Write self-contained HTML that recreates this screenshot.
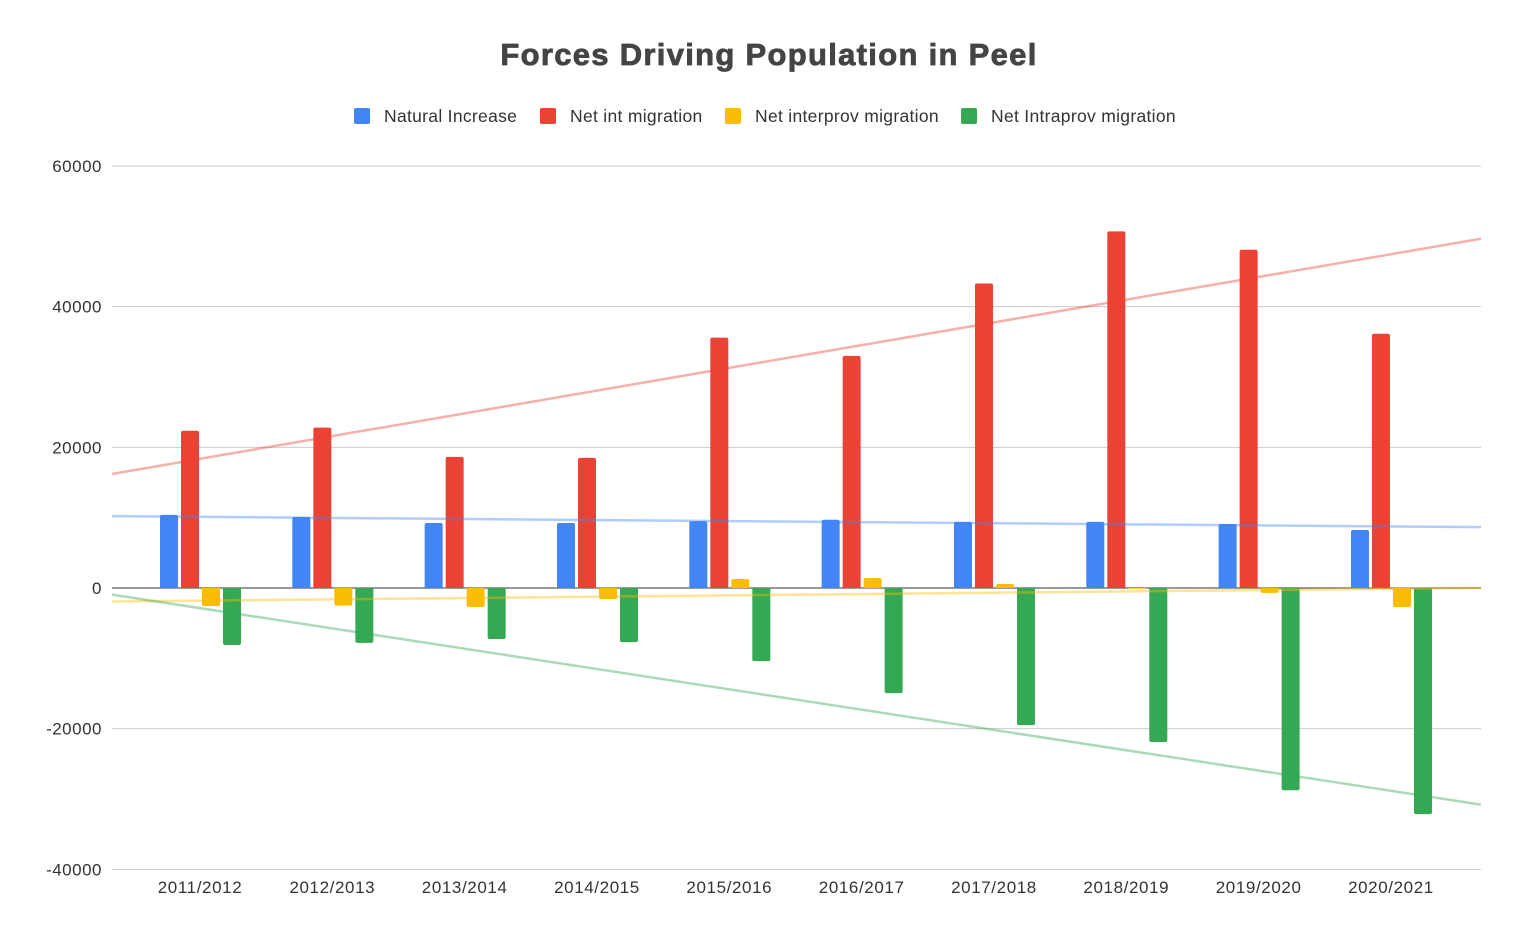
<!DOCTYPE html>
<html><head><meta charset="utf-8"><style>
body{margin:0;background:#fff;font-family:"Liberation Sans",Arial,sans-serif}
svg text{font-family:"Liberation Sans",Arial,sans-serif}
</style></head><body>
<svg id="c" width="1523" height="944">
<rect width="1523" height="944" fill="#fff"/>
<text x="769" y="65" text-anchor="middle" font-size="31" font-weight="bold" letter-spacing="1.3" stroke="#444" stroke-width="0.8" fill="#444">Forces Driving Population in Peel</text>
</svg>
<script>
const categories=["2011/2012","2012/2013","2013/2014","2014/2015","2015/2016","2016/2017","2017/2018","2018/2019","2019/2020","2020/2021"];
const natural=[10400,10100,9250,9250,9500,9700,9400,9400,9100,8250];
const netInt=[22350,22800,18650,18500,35600,33000,43300,50700,48100,36150];
const interprov=[-2560,-2500,-2700,-1560,1280,1420,570,-100,-700,-2700];
const intraprov=[-8100,-7800,-7260,-7700,-10400,-14950,-19500,-21900,-28750,-32150];
const yTicks=[60000,40000,20000,0,-20000,-40000];
const seriesNames=["Natural Increase","Net int migration","Net interprov migration","Net Intraprov migration"];
const colors=["#4285F4","#EA4335","#FBBC04","#34A853"];
const series=[natural,netInt,interprov,intraprov];
const svg=document.getElementById('c');
const NS="http://www.w3.org/2000/svg";
const X0=112,X1=1481;
const y=v=>588-v*(422/60000);
const cx=i=>200+i*132.33;
const xi=px=>(px-200)/132.33;
function el(t,a,p){const e=document.createElementNS(NS,t);for(const k in a)e.setAttribute(k,a[k]);(p||svg).appendChild(e);return e;}
yTicks.forEach(t=>{
 const g=el('line',{x1:X0,x2:X1,y1:y(t),y2:y(t),stroke:t===0?'#333':'#ccc','stroke-width':1});
 
 
 const tx=el('text',{x:102,y:y(t)+6,'text-anchor':'end','font-size':17,'letter-spacing':0.5,fill:'#333'});tx.textContent=t;
 
 
});
categories.forEach((c,i)=>{
 const tx=el('text',{x:cx(i),y:893,'text-anchor':'middle','font-size':17,'letter-spacing':0.6,fill:'#333'});tx.textContent=c;
 
 
});
series.forEach((s,k)=>{
 s.forEach((v,i)=>{
  const bx=cx(i)-40+k*21, w=18;
  const y0=y(0), y1=y(v), r=2;
  let d;
  if(v>=0){d=`M${bx},${y0}V${y1+r}Q${bx},${y1} ${bx+r},${y1}H${bx+w-r}Q${bx+w},${y1} ${bx+w},${y1+r}V${y0}Z`;}
  else{d=`M${bx},${y0}V${y1-r}Q${bx},${y1} ${bx+r},${y1}H${bx+w-r}Q${bx+w},${y1} ${bx+w},${y1-r}V${y0}Z`;}
  const p=el('path',{d:d,fill:colors[k]});
  
  
 });
});
series.forEach((s,k)=>{
 const n=s.length;let sx=0,sy=0,sxy=0,sxx=0;
 s.forEach((v,i)=>{sx+=i;sy+=v;sxy+=i*v;sxx+=i*i;});
 const b=(n*sxy-sx*sy)/(n*sxx-sx*sx),a=(sy-b*sx)/n;
 const a0=xi(X0),a1=xi(X1);
 const l=el('line',{x1:X0,x2:X1,y1:y(a+b*a0),y2:y(a+b*a1),stroke:colors[k],'stroke-width':2.5,'stroke-opacity':0.42});
 
 
});
const lx=[354,540,725,961];
seriesNames.forEach((nm,k)=>{
 const r=el('rect',{x:lx[k],y:108,width:16,height:16,rx:2,fill:colors[k]});
 
 
 const t=el('text',{x:lx[k]+30,y:122,'font-size':17.5,'letter-spacing':0.3,fill:'#333'});t.textContent=nm;
 
 
});
</script>
</body></html>
